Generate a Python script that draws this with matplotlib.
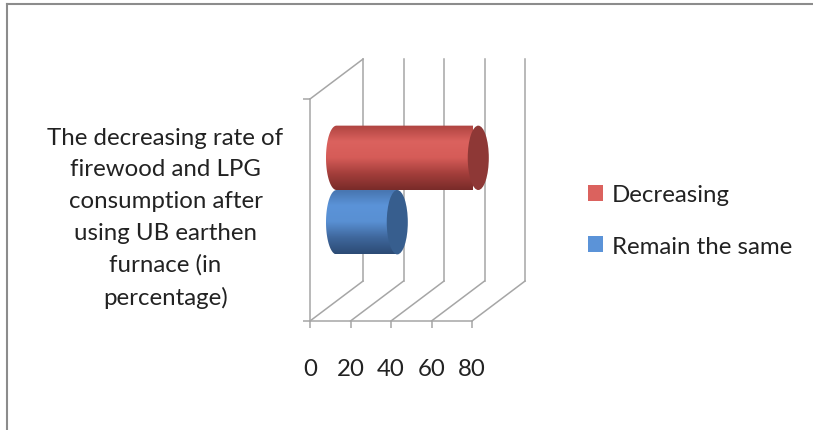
import numpy as np
import matplotlib
matplotlib.use("Agg")
import matplotlib.pyplot as plt
from matplotlib.colors import LinearSegmentedColormap
from matplotlib.patches import Ellipse, PathPatch, Patch
from matplotlib.path import Path
from matplotlib.lines import Line2D

category = ("The decreasing rate of\nfirewood and LPG\nconsumption after\n"
            "using UB earthen\nfurnace (in\npercentage)")
series = ["Remain the same", "Decreasing"]
values = [30, 70]
xticks = [0, 20, 40, 60, 80]

plt.rcParams["font.family"] = ["Lato", "DejaVu Sans"]
TEXT = "#222222"
GRID = "#A6A6A6"
FS = 17.3

# body gradient (top -> bottom) and end cap colour for each series
shades = {
    "Remain the same": (["#4673AD", "#5B93D8", "#5990D3", "#3F679C", "#2C4B75"], "#375E8E"),
    "Decreasing": (["#AE4340", "#DB625E", "#D65C58", "#A33E3B", "#792B29"], "#8E3836"),
}

W, H = 813, 431
fig = plt.figure(figsize=(W / 100, H / 100), dpi=100)

# axes = front plane of the 3-d box
ax = fig.add_axes([310 / W, 109 / H, 162 / W, 222 / H])
ax.patch.set_visible(False)

DX, DY = 26.2, 0.18   # box depth in data units
BH = 0.29             # bar thickness
RX = 5.2              # half width of the cylinder caps

ln = dict(color=GRID, lw=1.1, clip_on=False, zorder=1)
for x in xticks:
    ax.plot([x + DX, x + DX], [DY, 1 + DY], **ln)   # back wall
    ax.plot([x, x + DX], [0, DY], **ln)             # floor
ax.plot([0, DX], [1, 1 + DY], **ln)                 # side wall top edge

# cylinders sit half way into the box
for i, (name, v) in enumerate(zip(series, values)):
    cols, cap = shades[name]
    x0 = DX / 2
    yc = 0.5 + (i - 0.5) * BH + DY / 2
    y0, y1 = yc - BH / 2, yc + BH / 2
    t = np.linspace(np.pi / 2, 3 * np.pi / 2, 60)
    arc = np.column_stack([x0 + RX * np.cos(t), yc + BH / 2 * np.sin(t)])
    verts = np.vstack([[x0 + v, y1], arc, [x0 + v, y0], [x0 + v, y1]])
    body = PathPatch(Path(verts, closed=True), transform=ax.transData)
    cmap = LinearSegmentedColormap.from_list(name, cols)
    im = ax.imshow(np.linspace(0, 1, 200)[:, None], cmap=cmap, origin="upper",
                   extent=[x0 - RX, x0 + v, y0, y1], aspect="auto",
                   interpolation="bilinear", zorder=3)
    im.set_clip_path(body)
    im.set_clip_box(None)
    ax.add_patch(Ellipse((x0 + v, yc), 2 * RX, BH, fc=cap, ec="none",
                         zorder=4, clip_on=False))

ax.set_xlim(0, 80)
ax.set_ylim(0, 1)

for s in ["top", "right"]:
    ax.spines[s].set_visible(False)
for s in ["left", "bottom"]:
    ax.spines[s].set_color(GRID)
    ax.spines[s].set_linewidth(1.1)

ax.set_xticks(xticks)
ax.tick_params(axis="x", direction="out", length=5, width=1.1, color=GRID,
               labelsize=FS, labelcolor=TEXT, pad=21.5)
ax.set_yticks([0, 1])
ax.tick_params(axis="y", which="major", direction="out", length=5, width=1.1,
               color=GRID, labelleft=False)
ax.set_yticks([0.5], [category], minor=True)
ax.tick_params(axis="y", which="minor", length=0, labelsize=FS,
               labelcolor=TEXT, pad=19)
for lab in ax.get_yticklabels(minor=True):
    lab.set_multialignment("center")
    lab.set_linespacing(1.62)

handles = [Patch(fc=shades[n][0][1], ec="none", label=n) for n in series[::-1]]
fig.legend(handles=handles, loc="center left",
           bbox_to_anchor=(588 / W, (H - 221.5) / H), frameon=False,
           fontsize=FS, labelcolor=TEXT, handlelength=0.62, handleheight=0.68,
           handletextpad=0.38, labelspacing=1.25, borderpad=0, borderaxespad=0)

# chart area border
fig.add_artist(Line2D([7 / W, 7 / W], [0, 1 - 5 / H], transform=fig.transFigure,
                      color="#8C8C8C", lw=1.5))
fig.add_artist(Line2D([7 / W, 1], [1 - 5 / H, 1 - 5 / H], transform=fig.transFigure,
                      color="#8C8C8C", lw=1.5))

fig.savefig("out.png", dpi=100)
